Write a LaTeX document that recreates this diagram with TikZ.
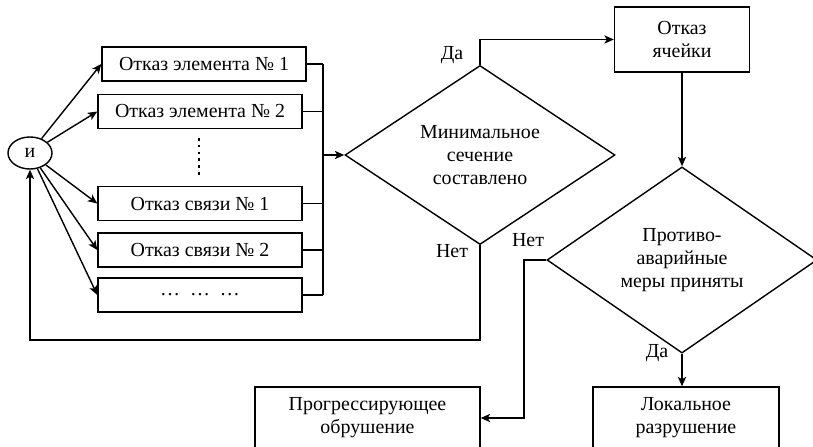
\documentclass[tikz,border=0pt]{standalone}
\usepackage{fontspec}
\setmainfont{Liberation Serif}
\usetikzlibrary{shapes.geometric,arrows.meta}

\tikzset{>={Stealth[length=8pt,width=7pt,inset=2pt]},every node/.style={font=\fontsize{17}{19.6}\selectfont},
  box/.style={draw,rectangle,minimum width=6.12cm,minimum height=1.02cm,inner sep=0pt},
  cond/.style={draw,diamond,minimum width=8.1cm,minimum height=4.92cm,inner sep=0pt,align=center},
  res/.style={draw,rectangle,inner sep=0pt,align=center}}

\begin{document}
\begin{tikzpicture}[x=0.03cm,y=-0.03cm,line width=1.2pt]
    \useasboundingbox (0,0) rectangle (813,446);
    \clip (0,0) rectangle (813,446);
    \node[draw,ellipse,minimum width=1.32cm,minimum height=0.96cm,inner sep=0pt] (and) at (30,153) {и};
    \foreach \x/\y/\t [count=\n] in {204/64/Отказ элемента № 1,200/111.5/Отказ элемента № 2,200/203.5/Отказ связи № 1,200/250/Отказ связи № 2,200/295/…\enspace…\enspace…}{
        \node[box] (fail\n) at (\x,\y) {\t};
    }
    \draw[line width=2.3pt,dash pattern=on 2.3pt off 3.5pt] (199,138) -- (199,175);
    \node[cond] (d1) at (480,155) {Минимальное\\сечение\\составлено};
    \node[cond] (d2) at (682,260) {Противо-\\аварийные\\меры приняты};
    \node[res,minimum width=4.05cm,minimum height=1.95cm] (cell) at (682,39.5) {Отказ\\ячейки};
    \node[res,minimum width=6.75cm,minimum height=1.86cm] (prog) at (367.5,418) {Прогрессирующее\\обрушение};
    \node[res,minimum width=5.58cm,minimum height=1.86cm] (loc) at (686,418) {Локальное\\разрушение};
    \coordinate (bus) at (323,155);
    \coordinate (back) at (30,340);
    \coordinate (turn) at (524,260);
    \foreach \n in {1,...,5}{
        \draw[->] (and) -- (fail\n.west);
        \draw (fail\n.east) -- (fail\n.east -| bus);
    }
    \draw (bus |- fail1.east) -- (bus |- fail5.east);
    \draw[->] (bus) -- (d1.west);
    \draw[->] (d1.north) |- (cell.west);
    \draw[->] (d1.south) |- (back) -- (and.south);
    \draw[->] (cell.south) -- (d2.north);
    \draw[->] (d2.west) -- (turn) |- (prog.east);
    \draw[->] (d2.south) -- (d2.south |- loc.north);
    \node (yes1) at (452,55) {Да};
    \node (no1) at (452,251) {Нет};
    \node (no2) at (528,240) {Нет};
    \node (yes2) at (657,353) {Да};
\end{tikzpicture}
\end{document}
